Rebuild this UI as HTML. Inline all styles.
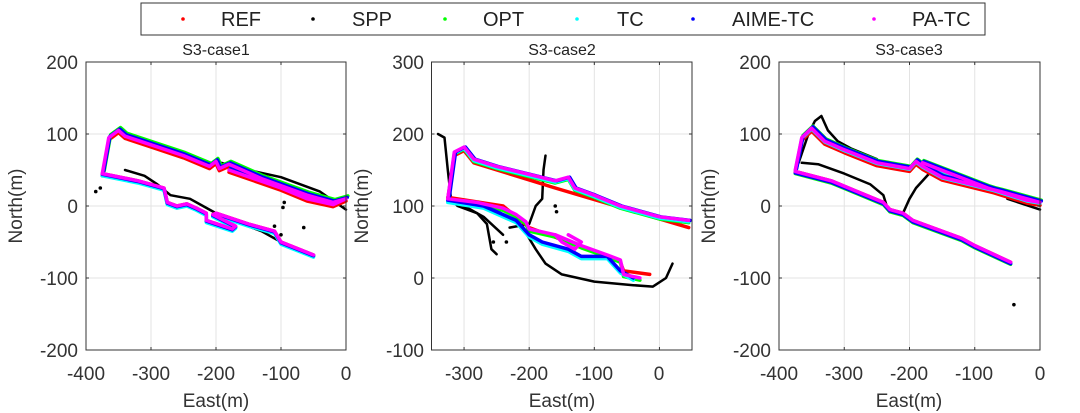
<!DOCTYPE html>
<html><head><meta charset="utf-8">
<style>
body{margin:0;background:#fff;}
svg{display:block;font-family:"Liberation Sans",Arial,sans-serif;}
</style></head><body>
<svg id="s" width="1080" height="413" viewBox="0 0 1080 413" xmlns="http://www.w3.org/2000/svg">
<rect width="1080" height="413" fill="#fff"/>
<rect x="141" y="3" width="844" height="32" fill="#fff" stroke="#333" stroke-width="1"/>
<g font-size="20" fill="#222">
<circle cx="183" cy="19" r="1.8" fill="#f00"/><text x="221" y="26">REF</text>
<circle cx="313" cy="19" r="1.8" fill="#000"/><text x="352" y="26">SPP</text>
<circle cx="445" cy="19" r="1.8" fill="#0f0"/><text x="483" y="26">OPT</text>
<circle cx="577" cy="19" r="1.8" fill="#0ff"/><text x="617" y="26">TC</text>
<circle cx="693" cy="19" r="1.8" fill="#00f"/><text x="732" y="26">AIME-TC</text>
<circle cx="874" cy="19" r="1.8" fill="#f0f"/><text x="912" y="26">PA-TC</text>
</g>
<g id="p1"></g><g id="p2"></g><g id="p3"></g>
<g font-size="16" fill="#222" text-anchor="middle">
<text x="216" y="55">S3-case1</text>
<text x="562" y="55">S3-case2</text>
<text x="909" y="55">S3-case3</text>
</g>
<g font-size="19" fill="#333" text-anchor="end">
<text x="78" y="69">200</text><text x="78" y="141">100</text><text x="78" y="213">0</text><text x="78" y="285">-100</text><text x="78" y="357">-200</text>
<text x="424" y="69">300</text><text x="424" y="141">200</text><text x="424" y="213">100</text><text x="424" y="285">0</text><text x="424" y="357">-100</text>
<text x="771" y="69">200</text><text x="771" y="141">100</text><text x="771" y="213">0</text><text x="771" y="285">-100</text><text x="771" y="357">-200</text>
</g>
<g font-size="19" fill="#333" text-anchor="middle">
<text x="86" y="380">-400</text><text x="151" y="380">-300</text><text x="216" y="380">-200</text><text x="281" y="380">-100</text><text x="346" y="380">0</text>
<text x="464" y="380">-300</text><text x="529" y="380">-200</text><text x="594" y="380">-100</text><text x="659" y="380">0</text>
<text x="779" y="380">-400</text><text x="844" y="380">-300</text><text x="909" y="380">-200</text><text x="974" y="380">-100</text><text x="1040" y="380">0</text>
<text x="216" y="407">East(m)</text><text x="562" y="407">East(m)</text><text x="909" y="407">East(m)</text>
</g>
<g font-size="19" fill="#333" text-anchor="middle">
<text transform="translate(22,206) rotate(-90)">North(m)</text>
<text transform="translate(368,206) rotate(-90)">North(m)</text>
<text transform="translate(715,206) rotate(-90)">North(m)</text>
</g>
</svg>
<script>
var NS="http://www.w3.org/2000/svg";
function el(g,t,a){var e=document.createElementNS(NS,t);for(var k in a)e.setAttribute(k,a[k]);g.appendChild(e);return e;}
function plot(id,L,R,xmin,xmax,ymin,ymax,xt,yt,series){
 var g=document.getElementById(id),T=62,B=350;
 function X(x){return L+(x-xmin)/(xmax-xmin)*(R-L);}
 function Y(y){return B-(y-ymin)/(ymax-ymin)*(B-T);}
 xt.forEach(function(v){el(g,"line",{x1:X(v),x2:X(v),y1:T,y2:B,stroke:"#e3e3e3","stroke-width":1});});
 yt.forEach(function(v){el(g,"line",{x1:L,x2:R,y1:Y(v),y2:Y(v),stroke:"#e3e3e3","stroke-width":1});});
 series.forEach(function(s){
  if(s.dots){s.pts.forEach(function(p){el(g,"circle",{cx:X(p[0]),cy:Y(p[1]),r:1.8,fill:s.c});});return;}
  var d=s.pts.map(function(p){return X(p[0]).toFixed(1)+","+Y(p[1]).toFixed(1);}).join(" ");
  el(g,"polyline",{points:d,fill:"none",stroke:s.c,"stroke-width":s.w||3.5,"stroke-linejoin":"round","stroke-linecap":"round"});
 });
 el(g,"rect",{x:L,y:T,width:R-L,height:B-T,fill:"none",stroke:"#333","stroke-width":1});
 xt.forEach(function(v){el(g,"line",{x1:X(v),x2:X(v),y1:B,y2:B-3,stroke:"#333"});el(g,"line",{x1:X(v),x2:X(v),y1:T,y2:T+3,stroke:"#333"});});
 yt.forEach(function(v){el(g,"line",{x1:L,x2:L+3,y1:Y(v),y2:Y(v),stroke:"#333"});el(g,"line",{x1:R,x2:R-3,y1:Y(v),y2:Y(v),stroke:"#333"});});
}
function shift(p,dx,dy){return p.map(function(q){return [q[0]+dx,q[1]+dy];});}
var u1=[[-375,45],[-365,95],[-350,105],[-340,97],[-300,85],[-250,70],[-210,55],[-200,62],[-195,52],[-180,58],[-130,38],[-60,15],[-20,5],[0,10],[-20,2],[-60,10],[-100,25],[-180,50]];
var l1=[[-375,45],[-320,35],[-280,25],[-275,5],[-260,0],[-245,3],[-230,-3],[-215,-10],[-215,-20],[-175,-32],[-170,-28],[-205,-12],[-200,-10],[-150,-25],[-110,-35],[-100,-50],[-50,-68]];
var b1=[[-340,50],[-310,42],[-290,30],[-270,15],[-240,10],[-210,-5],[-190,-15],[-130,-35],[-110,-45],[-100,-50]];
var b1u=[[-200,62],[-150,50],[-100,40],[-40,20],[0,-5]];
plot("p1",86,346,-400,0,-200,200,[-400,-300,-200,-100,0],[-200,-100,0,100,200],[
 {c:"#000",pts:b1,w:2.5},{c:"#000",pts:b1u,w:2.5},{c:"#000",dots:1,pts:[[-385,20],[-378,25],[-95,5],[-97,-2],[-65,-30],[-110,-28],[-100,-40]]},
 {c:"#f00",pts:shift(u1,0,-3)},{c:"#f00",pts:l1},{c:"#0f0",pts:shift(u1,3,4)},{c:"#0f0",pts:shift(l1,0,-2)},
 {c:"#0ff",pts:shift(l1,0,-3)},{c:"#00f",pts:shift(u1,2,2)},{c:"#00f",pts:shift(l1,0,-1)},
 {c:"#f0f",pts:u1},{c:"#f0f",pts:l1}]);
var u2=[[-325,110],[-315,175],[-300,182],[-285,165],[-250,155],[-160,135],[-140,140],[-130,125],[-100,115],[-60,100],[0,85],[45,80]];
var r2=[[-325,110],[-315,170],[-300,177],[-285,160],[-160,125],[45,70]];
var l2=[[-325,110],[-280,105],[-240,97],[-220,88],[-205,78],[-200,68],[-160,60],[-120,45],[-80,32],[-60,25],[-55,5],[-30,0]];
var lr2=[[-325,112],[-240,100],[-200,70],[-80,30],[-60,22],[-55,10],[-15,5]];
var lb2=[[-325,108],[-270,100],[-220,80],[-200,60],[-180,50],[-140,40],[-120,30],[-80,30],[-60,10],[-40,0]];
var pk2=[[-160,60],[-150,50],[-130,40],[-120,50],[-140,60]];
plot("p2",431.5,692,-350,50,-100,300,[-300,-200,-100,0],[-100,0,100,200,300],[
 {c:"#000",w:2.5,pts:[[-340,200],[-330,195],[-325,150],[-320,110],[-310,100],[-280,90],[-265,75],[-258,40],[-250,33]]},
 {c:"#000",w:2.5,pts:[[-300,100],[-270,85],[-240,60]]},
 {c:"#000",w:2.5,pts:[[-210,70],[-190,40],[-175,20],[-150,5],[-100,-5],[-40,-10],[-10,-12],[10,0],[20,20]]},
 {c:"#000",w:2.5,pts:[[-230,70],[-200,75],[-190,100],[-180,110],[-178,150],[-175,170]]},
 {c:"#000",dots:1,pts:[[-255,50],[-235,50],[-160,100],[-158,92]]},
 {c:"#f00",pts:r2},{c:"#f00",pts:lr2},{c:"#0f0",pts:shift(u2,0,-3)},{c:"#0f0",pts:shift(l2,0,-3)},
 {c:"#0ff",pts:shift(u2,0,-2)},{c:"#0ff",pts:shift(lb2,0,-3)},{c:"#00f",pts:shift(u2,2,0)},{c:"#00f",pts:lb2},
 {c:"#f0f",pts:u2},{c:"#f0f",pts:l2},{c:"#f0f",pts:pk2}]);
var u3=[[-375,50],[-365,95],[-350,108],[-330,90],[-300,78],[-250,60],[-200,52],[-190,62],[-180,55],[-150,40],[-60,20],[0,5],[-20,8],[-80,25],[-180,60]];
var l3=[[-375,48],[-320,35],[-280,20],[-240,5],[-230,-5],[-210,-10],[-195,-20],[-180,-25],[-120,-45],[-100,-55],[-45,-78]];
plot("p3",779,1040,-400,0,-200,200,[-400,-300,-200,-100,0],[-200,-100,0,100,200],[
 {c:"#000",w:2.5,pts:[[-370,60],[-355,100],[-345,118],[-335,125],[-325,105],[-310,90],[-290,80],[-250,65]]},
 {c:"#000",w:2.5,pts:[[-365,60],[-340,58],[-300,45],[-260,30],[-240,15],[-235,0]]},
 {c:"#000",w:2.5,pts:[[-210,-10],[-200,10],[-190,25],[-170,45],[-155,55]]},
 {c:"#000",w:2.5,pts:[[-50,10],[0,-5]]},
 {c:"#000",dots:1,pts:[[-40,-137]]},
 {c:"#f00",pts:shift(u3,0,-4)},{c:"#f00",pts:l3},{c:"#0f0",pts:shift(u3,2,3)},{c:"#0f0",pts:shift(l3,0,-3)},
 {c:"#0ff",pts:shift(u3,0,-1)},{c:"#00f",pts:shift(u3,2,2)},{c:"#00f",pts:shift(l3,0,-2)},
 {c:"#f0f",pts:u3},{c:"#f0f",pts:l3}]);
</script>
</body></html>
